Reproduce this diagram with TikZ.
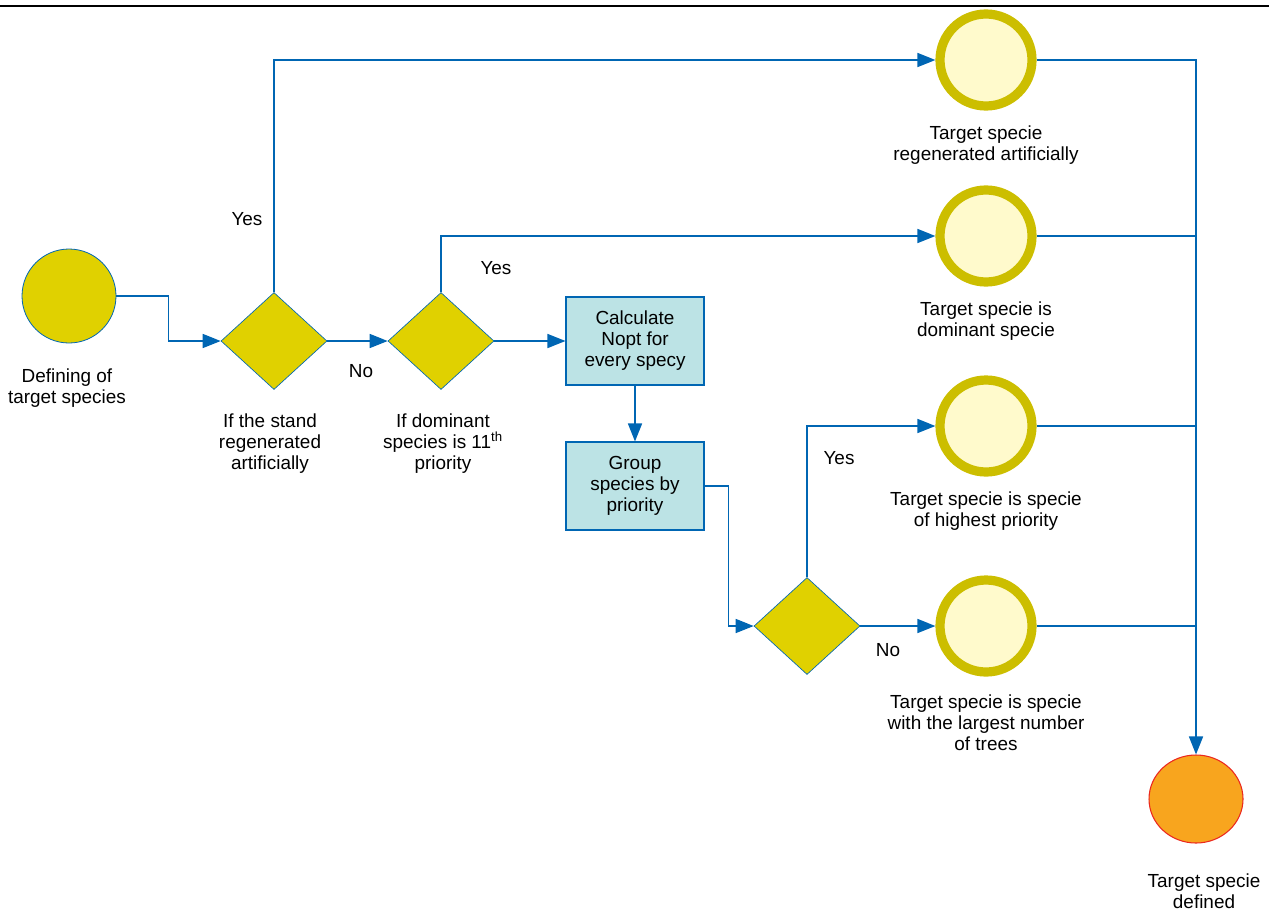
\documentclass[tikz,border=0pt]{standalone}
\usepackage{fontspec}
\setmainfont{Liberation Sans}
\usetikzlibrary{shapes.geometric,arrows.meta}
\definecolor{linkblue}{RGB}{0,102,179}
\definecolor{startyellow}{RGB}{224,209,0}
\definecolor{ringolive}{RGB}{204,190,0}
\definecolor{ringfill}{RGB}{255,250,204}
\definecolor{boxcyan}{RGB}{188,227,229}
\definecolor{endorange}{RGB}{248,165,30}
\definecolor{endred}{RGB}{235,40,30}
\begin{document}
\begin{tikzpicture}[x=0.75pt, y=-0.75pt,
    every node/.style={font=\fontsize{14.2}{15.8}\selectfont, align=center},
    startnode/.style={circle, draw=linkblue, line width=0.6pt, fill=startyellow, minimum size=70.5pt, inner sep=0pt},
    decision/.style={diamond, draw=linkblue, line width=0.5pt, fill=startyellow, minimum width=79.5pt, minimum height=72.75pt, inner sep=0pt},
    process/.style={rectangle, draw=linkblue, line width=0.8pt, fill=boxcyan, minimum width=103.5pt, minimum height=66pt, inner sep=2pt},
    target/.style={circle, draw=ringolive, line width=6.9pt, fill=ringfill, minimum size=69pt, inner sep=0pt},
    endnode/.style={ellipse, draw=endred, line width=0.8pt, fill=endorange, minimum width=70.5pt, minimum height=66pt, inner sep=0pt},
    flow/.style={draw=linkblue, line width=1.2pt, -{Triangle[length=13.5pt,width=10.5pt]}},
    plain/.style={draw=linkblue, line width=1.2pt}]
  \useasboundingbox (0,0) rectangle (1269,910);
  \draw[line width=1.2pt] (0,6) -- (1269,6);

  % shapes
  \node[startnode] (start) at (69,296) {};
  \node[decision] (d1) at (274,341) {};
  \node[decision] (d2) at (441,341) {};
  \node[process] (calc) at (635,341) {Calculate\\Nopt for\\every specy};
  \node[process] (group) at (635,486) {Group\\species by\\priority};
  \node[decision] (d3) at (807,626) {};
  \node[target] (t1) at (986,60) {};
  \node[target] (t2) at (986,236) {};
  \node[target] (t3) at (986,426) {};
  \node[target] (t4) at (986,626) {};
  \node[endnode] (fin) at (1196,799) {};

  % labels
  \node (lstart) at (67,388) {Defining of\\target species};
  \node (ld1) at (270,444) {If the stand\\regenerated\\artificially};
  \node (ld2) at (443,444) {If dominant\\species is 11\textsuperscript{th}\\priority};
  \node (lt1) at (986,145) {Target specie\\regenerated artificially};
  \node (lt2) at (986,321) {Target specie is\\dominant specie};
  \node (lt3) at (986,511) {Target specie is specie\\of highest priority};
  \node (lt4) at (986,723) {Target specie is specie\\with the largest number\\of trees};
  \node (lfin) at (1204,891) {Target specie\\defined};
  \node (yes1) at (247,219) {Yes};
  \node (yes2) at (496,268) {Yes};
  \node (yes3) at (839,458) {Yes};
  \node (no1) at (361,371) {No};
  \node (no2) at (888,650) {No};

  % connectors
  \draw[flow] (start.east) -- ++(52,0) |- (d1.west);
  \draw[flow] (d1.north) |- (t1.west);
  \draw[flow] (d1.east) -- (d2.west);
  \draw[flow] (d2.north) |- (t2.west);
  \draw[flow] (d2.east) -- (calc.west);
  \draw[flow] (calc.south) -- (group.north);
  \draw[flow] (group.east) -- ++(24,0) |- (d3.west);
  \draw[flow] (d3.north) |- (t3.west);
  \draw[flow] (d3.east) -- (t4.west);
  \draw[flow] (t1.east) -| (fin.north);
  \draw[plain] (t2.east) -- (t2.east -| fin.north);
  \draw[plain] (t3.east) -- (t3.east -| fin.north);
  \draw[plain] (t4.east) -- (t4.east -| fin.north);
\end{tikzpicture}
\end{document}
